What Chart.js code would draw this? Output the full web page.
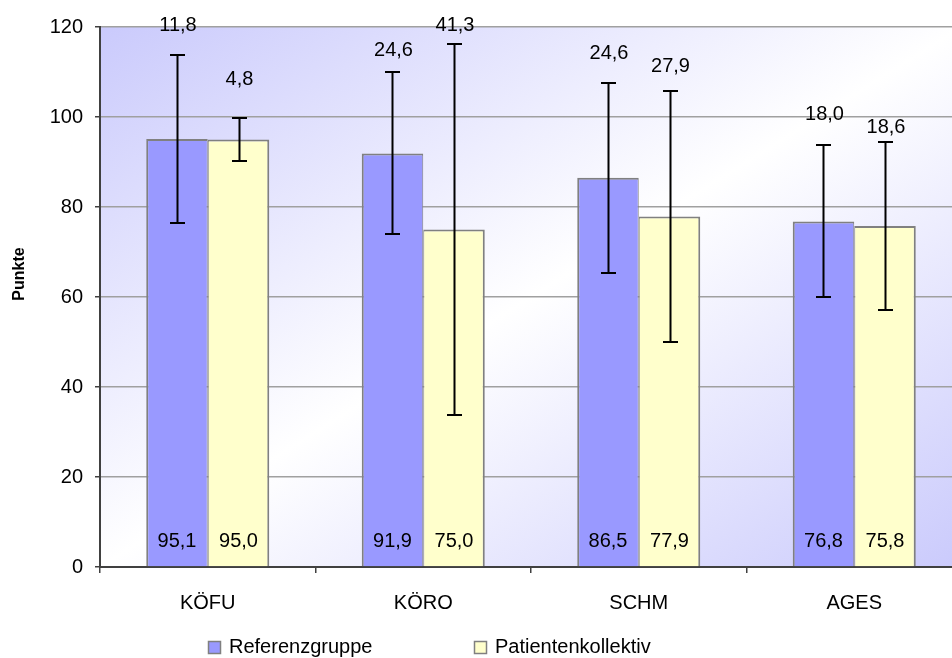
<!DOCTYPE html>
<html>
<head>
<meta charset="utf-8">
<script src="https://cdn.jsdelivr.net/npm/chart.js@4/dist/chart.umd.min.js"></script>
<style>
  html, body { margin: 0; padding: 0; background: #ffffff; overflow: hidden; }
  canvas { display: block; }
</style>
</head>
<body>
<canvas id="chart" width="962" height="658"></canvas>
<script>
// Categories and series
const categories = ['KÖFU', 'KÖRO', 'SCHM', 'AGES'];
const seriesNames = ['Referenzgruppe', 'Patientenkollektiv'];

// Mean scores (bar heights)
const referenzMean = [95.1, 91.9, 86.5, 76.8];
const patientenMean = [95.0, 75.0, 77.9, 75.8];

// Standard deviations printed above the whiskers
const referenzSD = [11.8, 24.6, 24.6, 18.0];
const patientenSD = [4.8, 41.3, 27.9, 18.6];

// Half-length of the error whiskers
const referenzWhisker = [18.7, 18.0, 21.1, 16.9];
const patientenWhisker = [4.8, 41.3, 27.9, 18.6];

// Value-axis ticks and title
const yTicks = [0, 20, 40, 60, 80, 100, 120];
const yTitle = 'Punkte';

// ---- styling / layout ----
const FONT = '"Liberation Sans", Arial, sans-serif';
const barColors = ['#9999FF', '#FFFFCC'];
const barEdge = '#808080';
const axisColor = '#404040';
const gridColor = '#A0A0A0';
// vertical gap (px) between a whisker's top and the centre of its SD label
const sdLabelLift = [[30, 22, 30, 31], [39, 19, 25, 15]];
const legendLayout = { boxX: [208, 474], boxTop: 641, box: 13, textGap: 21, baseline: 653 };
const yTitleLayout = { x: 20, y: 274 };

Chart.defaults.font.family = FONT;
Chart.defaults.color = '#000000';

const fmt = v => v.toFixed(1).replace('.', ',');

// Diagonal lavender -> white -> lavender fill behind the plot area
const plotBackground = {
  id: 'plotBackground',
  beforeDraw(chart) {
    const { ctx, chartArea: a } = chart;
    const w = a.right - a.left, h = a.bottom - a.top;
    const k = 2 * w * h / (w * w + h * h);
    const g = ctx.createLinearGradient(a.left, a.top, a.left + h * k, a.top + w * k);
    g.addColorStop(0, '#CACAFC');
    g.addColorStop(0.5, '#FFFFFF');
    g.addColorStop(1, '#CACAFC');
    ctx.save();
    ctx.fillStyle = g;
    ctx.fillRect(a.left, a.top, w, h);
    ctx.restore();
  }
};

// Error whiskers, SD labels above them and mean labels at the bar feet
const whiskersAndLabels = {
  id: 'whiskersAndLabels',
  afterDatasetsDraw(chart) {
    const { ctx } = chart;
    const yScale = chart.scales.y;
    const whiskers = [referenzWhisker, patientenWhisker];
    const sds = [referenzSD, patientenSD];
    ctx.save();
    chart.data.datasets.forEach((ds, d) => {
      const meta = chart.getDatasetMeta(d);
      meta.data.forEach((bar, i) => {
        const x = Math.round(bar.x) + 0.5;
        const v = ds.data[i];
        const yTop = Math.round(yScale.getPixelForValue(v + whiskers[d][i]));
        const yBot = Math.round(yScale.getPixelForValue(v - whiskers[d][i]));
        ctx.strokeStyle = '#000000';
        ctx.lineWidth = 2;
        ctx.beginPath();
        ctx.moveTo(x, yTop);
        ctx.lineTo(x, yBot);
        ctx.moveTo(x - 7.5, yTop);
        ctx.lineTo(x + 7.5, yTop);
        ctx.moveTo(x - 7.5, yBot);
        ctx.lineTo(x + 7.5, yBot);
        ctx.stroke();

        ctx.fillStyle = '#000000';
        ctx.font = '20px ' + FONT;
        ctx.textAlign = 'center';
        ctx.textBaseline = 'middle';
        ctx.fillText(fmt(sds[d][i]), bar.x + 1, yTop - sdLabelLift[d][i]);
        ctx.fillText(fmt(v), bar.x, yScale.getPixelForValue(0) - 26);
      });
    });
    ctx.restore();
  }
};

// Rotated value-axis title and legend row under the category axis
const titleAndLegend = {
  id: 'titleAndLegend',
  afterDraw(chart) {
    const { ctx } = chart;
    ctx.save();
    ctx.translate(yTitleLayout.x, yTitleLayout.y);
    ctx.rotate(-Math.PI / 2);
    ctx.fillStyle = '#000000';
    ctx.font = 'bold 16px ' + FONT;
    ctx.textAlign = 'center';
    ctx.textBaseline = 'middle';
    ctx.fillText(yTitle, 0, 0);
    ctx.restore();

    const L = legendLayout;
    ctx.save();
    chart.data.datasets.forEach((ds, d) => {
      const bx = L.boxX[d];
      ctx.fillStyle = ds.backgroundColor;
      ctx.fillRect(bx, L.boxTop, L.box, L.box);
      ctx.strokeStyle = barEdge;
      ctx.lineWidth = 1.5;
      ctx.strokeRect(bx + 0.5, L.boxTop + 0.5, L.box - 1, L.box - 1);
      ctx.fillStyle = '#000000';
      ctx.font = '20px ' + FONT;
      ctx.textAlign = 'left';
      ctx.textBaseline = 'alphabetic';
      ctx.fillText(ds.label, bx + L.textGap, L.baseline);
    });
    ctx.restore();
  }
};

new Chart(document.getElementById('chart'), {
  type: 'bar',
  data: {
    labels: categories,
    datasets: [
      {
        label: seriesNames[0],
        data: referenzMean,
        backgroundColor: barColors[0],
        borderColor: barEdge,
        borderWidth: { top: 2, left: 2, right: 1, bottom: 0 },
        borderSkipped: false,
        categoryPercentage: 0.571,
        barPercentage: 1.0
      },
      {
        label: seriesNames[1],
        data: patientenMean,
        backgroundColor: barColors[1],
        borderColor: barEdge,
        borderWidth: { top: 2, left: 1, right: 2, bottom: 0 },
        borderSkipped: false,
        categoryPercentage: 0.571,
        barPercentage: 1.0
      }
    ]
  },
  options: {
    responsive: false,
    animation: false,
    layout: { padding: { top: 27, right: 0, bottom: 0, left: 0 } },
    plugins: {
      legend: { display: false },
      tooltip: { enabled: false }
    },
    scales: {
      x: {
        offset: true,
        ticks: { font: { size: 20 }, color: '#000000', padding: 18 },
        grid: {
          offset: true,
          drawOnChartArea: false,
          tickLength: 6,
          tickColor: axisColor,
          lineWidth: 1.5
        },
        border: { color: axisColor, width: 2 },
        afterFit(scale) { scale.height = 91; }
      },
      y: {
        min: 0,
        max: 120,
        afterBuildTicks(scale) { scale.ticks = yTicks.map(v => ({ value: v })); },
        ticks: { font: { size: 20 }, color: '#000000', padding: 12 },
        grid: {
          color: c => (c.tick && c.tick.value === 0 ? 'rgba(0,0,0,0)' : gridColor),
          lineWidth: 1.5,
          tickLength: 5,
          tickColor: axisColor
        },
        border: { color: axisColor, width: 2 },
        afterFit(scale) { scale.width = 100; }
      }
    }
  },
  plugins: [plotBackground, whiskersAndLabels, titleAndLegend]
});
</script>
</body>
</html>
